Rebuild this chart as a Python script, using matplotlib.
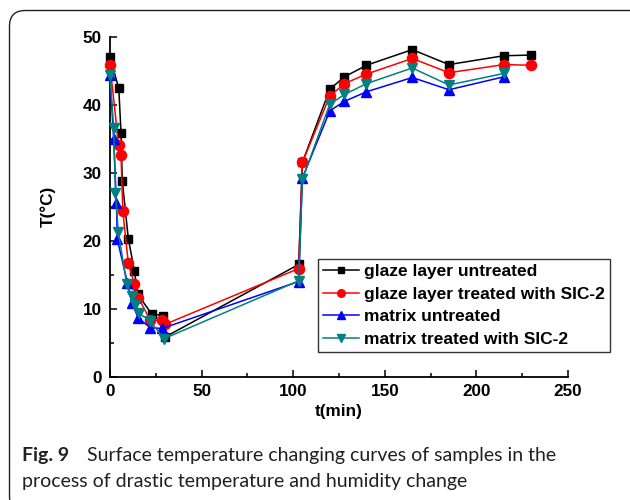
import matplotlib
matplotlib.use("Agg")
import matplotlib.pyplot as plt
from matplotlib.patches import FancyBboxPatch
from matplotlib.ticker import MultipleLocator

# ---- data ----
t_glaze_untreated = [0, 4.8, 6.0, 6.7, 10.0, 13.3, 15.2, 22.8, 28.8, 29.8, 103, 105, 120, 128, 140, 165, 185, 215, 230]
T_glaze_untreated = [47.0, 42.4, 35.9, 28.8, 20.3, 15.6, 12.1, 9.2, 9.0, 5.8, 16.5, 31.5, 42.3, 44.1, 45.8, 48.1, 45.9, 47.2, 47.3]

t_glaze_treated = [0, 4.7, 6.0, 7.0, 10.0, 13.3, 15.5, 22.0, 28.3, 30.0, 103, 105, 120, 128, 140, 165, 185, 215, 230]
T_glaze_treated = [45.8, 34.1, 32.6, 24.3, 16.7, 13.6, 11.6, 8.3, 8.3, 7.7, 15.9, 31.5, 41.3, 43.1, 44.5, 46.8, 44.7, 45.9, 45.8]

t_matrix_untreated = [0, 2.0, 3.5, 4.0, 9.5, 12.0, 15.5, 22.0, 28.5, 103, 105, 120, 128, 140, 165, 185, 215]
T_matrix_untreated = [44.3, 34.9, 25.6, 20.2, 13.8, 10.8, 8.6, 7.2, 7.1, 14.0, 29.2, 39.1, 40.5, 41.9, 44.0, 42.2, 44.1]

t_matrix_treated = [0, 2.0, 3.0, 4.5, 9.1, 11.9, 13.7, 15.9, 21.9, 29.5, 103, 105, 120, 128, 140, 165, 185, 215]
T_matrix_treated = [44.4, 36.5, 27.0, 21.3, 13.7, 11.8, 10.5, 9.3, 8.2, 5.6, 14.1, 29.0, 40.1, 41.5, 43.1, 45.4, 42.9, 44.6]

labels = ["glaze layer untreated", "glaze layer treated with SIC-2",
          "matrix untreated", "matrix treated with SIC-2"]

x_ticks = [0, 50, 100, 150, 200, 250]
y_ticks = [0, 10, 20, 30, 40, 50]

caption_bold = "Fig. 9"
caption_line1 = "Surface temperature changing curves of samples in the"
caption_line2 = "process of drastic temperature and humidity change"

plt.rcParams['font.family'] = ['Liberation Sans', 'DejaVu Sans']

fig = plt.figure(figsize=(6.3, 5.0), dpi=100)
W, H = 630, 500

# rounded outer frame
frame = FancyBboxPatch((9.5 / W, -12 / H), 660 / W, (H - 10.5 + 12) / H,
                       boxstyle="round,pad=0,rounding_size=0.025",
                       transform=fig.transFigure, fill=False, edgecolor='#222222',
                       linewidth=1.0, mutation_aspect=W / H, clip_on=False)
fig.patches.append(frame)

ax = fig.add_axes([110 / W, 1 - 376.7 / H, (568 - 110) / W, (376.7 - 36.7) / H])

ax.plot(t_glaze_untreated, T_glaze_untreated, color='black', marker='s', markersize=6.3,
        linewidth=1.1, label=labels[0], clip_on=False, zorder=3)
ax.plot(t_glaze_treated, T_glaze_treated, color='red', marker='o', markersize=7.3,
        linewidth=1.1, label=labels[1], clip_on=False, zorder=3)
ax.plot(t_matrix_untreated, T_matrix_untreated, color='blue', marker='^', markersize=7.3,
        linewidth=1.1, label=labels[2], clip_on=False, zorder=3)
ax.plot(t_matrix_treated, T_matrix_treated, color='#008080', marker='v', markersize=7.3,
        linewidth=1.1, label=labels[3], clip_on=False, zorder=3)

ax.set_xlim(0, 250)
ax.set_ylim(0, 50)
ax.set_xticks(x_ticks)
ax.set_yticks(y_ticks)
ax.xaxis.set_minor_locator(MultipleLocator(25))
ax.yaxis.set_minor_locator(MultipleLocator(5))
ax.spines['top'].set_visible(False)
ax.spines['right'].set_visible(False)
for s in ('left', 'bottom'):
    ax.spines[s].set_linewidth(1.3)
ax.tick_params(which='both', direction='in', width=1.1)
ax.tick_params(which='major', length=5, labelsize=12.3)
ax.tick_params(axis='y', which='major', pad=6)
ax.tick_params(axis='x', which='major', pad=5.5)
ax.tick_params(which='minor', length=3)
for lab in ax.get_xticklabels() + ax.get_yticklabels():
    lab.set_fontweight('bold')

ax.set_xlabel("t(min)", fontsize=12.3, fontweight='bold', labelpad=3)
ax.set_ylabel("T(°C)", fontsize=12.3, fontweight='bold', labelpad=19)

leg = ax.legend(loc='upper left', bbox_to_anchor=(318 / W, 1 - 259 / H),
                bbox_transform=fig.transFigure, frameon=True, fancybox=False,
                prop={'weight': 'bold', 'size': 12.5}, handlelength=2.05, markerscale=0.75,
                borderpad=0.3, labelspacing=0.42, handletextpad=0.3, borderaxespad=0)
leg.get_frame().set_edgecolor('black')
leg.get_frame().set_linewidth(1.0)

# caption, fitted to the reference width
cap_font = ['Lato', 'DejaVu Sans']
renderer = fig.canvas.get_renderer()
probe = fig.text(0, 0, caption_line1, fontsize=10, family=cap_font)
w10 = probe.get_window_extent(renderer).width
probe.remove()
cap_size = 10 * 469 / w10
cap_color = '#231f20'
fig.text(22 / W, 1 - 456 / H, caption_bold, fontsize=cap_size, fontweight='bold',
         family=cap_font, va='center', ha='left', color=cap_color)
fig.text(87 / W, 1 - 456 / H, caption_line1,
         fontsize=cap_size, family=cap_font, va='center', ha='left', color=cap_color)
fig.text(22 / W, 1 - 481 / H, caption_line2,
         fontsize=cap_size, family=cap_font, va='center', ha='left', color=cap_color)

fig.savefig("out.png", dpi=100)
